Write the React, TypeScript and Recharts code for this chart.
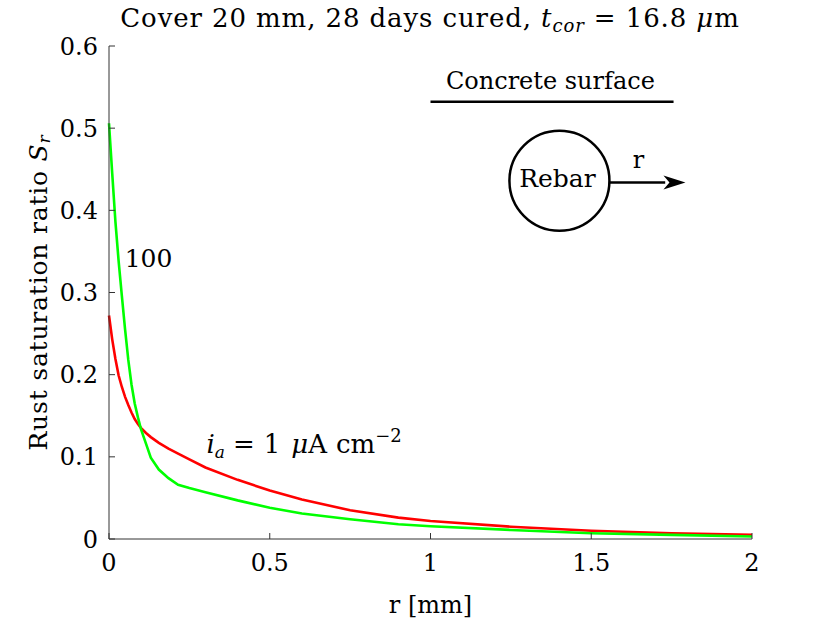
import React from 'react';
import {
  LineChart,
  Line,
  XAxis,
  YAxis,
  ReferenceLine,
  ReferenceDot,
} from 'recharts';

// r [mm] sample positions and the two saturation profiles
const rValues = [0, 0.01, 0.02, 0.03, 0.04, 0.05, 0.06, 0.07, 0.08, 0.09, 0.1, 0.115, 0.13, 0.155, 0.185, 0.215, 0.25, 0.3, 0.4, 0.5, 0.6, 0.75, 0.9, 1.0, 1.25, 1.5, 1.75, 2.0];
// i_a = 100 (green)
const sr100 = [0.506, 0.445, 0.386, 0.338, 0.296, 0.255, 0.218, 0.188, 0.165, 0.148, 0.133, 0.116, 0.099, 0.0845, 0.074, 0.066, 0.062, 0.057, 0.047, 0.038, 0.031, 0.024, 0.018, 0.0155, 0.011, 0.007, 0.005, 0.003];
// i_a = 1 uA/cm2 (red)
const sr1 = [0.272, 0.243, 0.219, 0.199, 0.185, 0.173, 0.163, 0.154, 0.146, 0.14, 0.135, 0.129, 0.124, 0.117, 0.11, 0.104, 0.097, 0.087, 0.072, 0.059, 0.048, 0.035, 0.026, 0.022, 0.015, 0.01, 0.007, 0.005];

const xTicks = [0, 0.5, 1, 1.5, 2];
const yTicks = [0, 0.1, 0.2, 0.3, 0.4, 0.5, 0.6];

const rows = rValues.map((r, i) => ({ r, green: sr100[i], red: sr1[i] }));

const FONT = "'DejaVu Serif', 'Liberation Serif', serif";
const AXIS = '#333333';
const FS = 24;
const SUB = 17;

const txt = (s: React.ReactNode, anchor: 'start' | 'middle' | 'end' = 'middle', size = FS) =>
  (p: any) => (
    <text x={p.cx} y={p.cy} textAnchor={anchor} fontFamily={FONT} fontSize={size} fill="#000">
      {s}
    </text>
  );

export default function App() {
  return (
    <div style={{ position: 'absolute', left: 0, top: 0, width: 830, height: 623, background: '#fff' }}>
      <div
        style={{
          position: 'absolute',
          left: 0,
          top: 3,
          width: 860,
          textAlign: 'center',
          fontFamily: FONT,
          fontSize: 26,
          letterSpacing: 0.9,
          lineHeight: '30px',
          color: '#000',
        }}
      >
        Cover 20 mm, 28 days cured, <i>t</i>
        <sub style={{ fontSize: 18, fontStyle: 'italic', verticalAlign: '-5px' }}>cor</sub> = 16.8 <i>μ</i>m
      </div>
      <LineChart
        width={830}
        height={623}
        data={rows}
        margin={{ top: 46, right: 78, bottom: 0, left: 0 }}
        style={{ position: 'absolute', left: 0, top: 0 }}
      >
        <XAxis
          dataKey="r"
          type="number"
          domain={[0, 2]}
          ticks={xTicks}
          height={84}
          tickSize={-6}
          tickMargin={21}
          stroke={AXIS}
          tick={{ fill: '#000', fontFamily: FONT, fontSize: FS }}
          label={{
            content: ({ viewBox }: any) => (
              <text
                x={viewBox.x + viewBox.width / 2}
                y={viewBox.y + 74}
                textAnchor="middle"
                fontFamily={FONT}
                fontSize={FS}
                fill="#000"
              >
                r [mm]
              </text>
            ),
          }}
        />
        <XAxis
          xAxisId="top"
          dataKey="r"
          type="number"
          orientation="top"
          domain={[0, 2]}
          ticks={xTicks}
          height={0}
          tickSize={-6}
          stroke={AXIS}
          tickFormatter={() => ''}
        />
        <YAxis
          type="number"
          domain={[0, 0.6]}
          ticks={yTicks}
          width={109}
          tickSize={-6}
          tickMargin={17}
          stroke={AXIS}
          tick={{ fill: '#000', fontFamily: FONT, fontSize: FS }}
          label={{
            content: ({ viewBox }: any) => {
              const cx = 38;
              const cy = viewBox.y + viewBox.height / 2;
              return (
                <text
                  x={cx}
                  y={cy}
                  transform={`rotate(-90 ${cx} ${cy})`}
                  textAnchor="middle"
                  dominantBaseline="central"
                  fontFamily={FONT}
                  fontSize={25}
                  letterSpacing={0.8}
                  fill="#000"
                >
                  Rust saturation ratio <tspan fontStyle="italic">S</tspan>
                  <tspan fontStyle="italic" fontSize={SUB} dy={6}>r</tspan>
                </text>
              );
            },
          }}
        />
        <YAxis
          yAxisId="right"
          orientation="right"
          type="number"
          domain={[0, 0.6]}
          ticks={yTicks}
          width={0}
          tickSize={-6}
          stroke={AXIS}
          tickFormatter={() => ''}
        />

        <Line type="linear" dataKey="red" stroke="#ff0000" strokeWidth={2.6} dot={false} isAnimationActive={false} />
        <Line type="linear" dataKey="green" stroke="#00ff00" strokeWidth={2.6} dot={false} isAnimationActive={false} />

        {/* schematic: concrete surface, rebar and r-arrow */}
        <ReferenceLine segment={[{ x: 1.0, y: 0.532 }, { x: 1.756, y: 0.532 }]} stroke="#000" strokeWidth={2.5} />
        <ReferenceDot x={1.401} y={0.436} r={50} fill="none" stroke="#000" strokeWidth={2.5} />
        <ReferenceLine segment={[{ x: 1.555, y: 0.434 }, { x: 1.73, y: 0.434 }]} stroke="#000" strokeWidth={2.5} />
        <ReferenceDot
          x={1.793}
          y={0.434}
          shape={(p: any) => (
            <polygon
              points={`${p.cx},${p.cy} ${p.cx - 22},${p.cy - 7} ${p.cx - 16},${p.cy} ${p.cx - 22},${p.cy + 7}`}
              fill="#000"
            />
          )}
        />
        <ReferenceDot x={1.373} y={0.548} shape={txt('Concrete surface')} />
        <ReferenceDot x={1.395} y={0.429} shape={txt('Rebar', 'middle', 25)} />
        <ReferenceDot x={1.647} y={0.4515} shape={txt('r')} />
        <ReferenceDot x={0.123} y={0.331} shape={txt('100', 'middle', 25)} />
        <ReferenceDot
          x={0.303}
          y={0.105}
          shape={txt(
            <>
              <tspan fontStyle="italic">i</tspan>
              <tspan fontStyle="italic" fontSize={SUB} dy={5}>a</tspan>
              <tspan dy={-5} dx={8}>=</tspan>
              <tspan dx={9}>1</tspan>
              <tspan dx={11} fontStyle="italic">μ</tspan>
              <tspan>A</tspan>
              <tspan dx={9}>cm</tspan>
              <tspan fontSize={18} dy={-11}>−2</tspan>
            </>,
            'start',
            26,
          )}
        />
      </LineChart>
    </div>
  );
}
